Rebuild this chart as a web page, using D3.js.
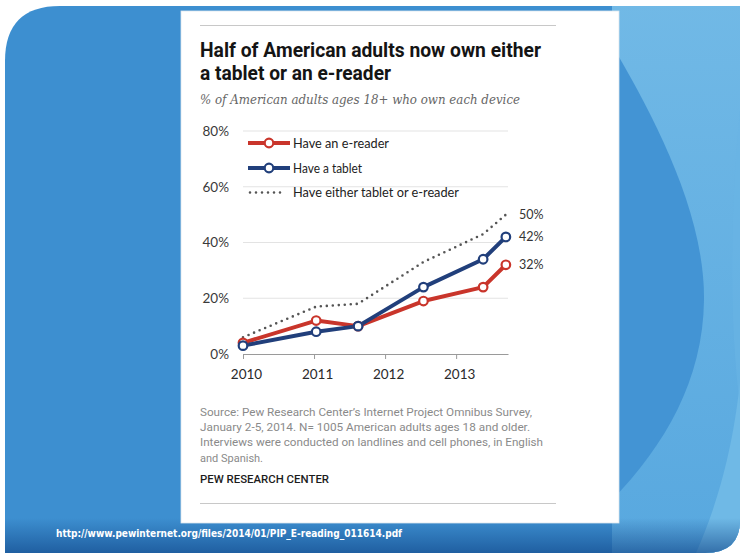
<!DOCTYPE html>
<html>
<head>
<meta charset="utf-8">
<script src="https://cdn.jsdelivr.net/npm/d3@7"></script>
<style>
  html, body { margin: 0; padding: 0; background: #fff; }
  svg { display: block; }
</style>
</head>
<body>
<svg id="slide" width="740" height="553"></svg>
<script>
// Survey waves (fractional years) and ownership shares, in percent
const surveyDates = [2010.0, 2011.03, 2011.62, 2012.54, 2013.38, 2013.70];
const eReader = [4, 12, 10, 19, 24, 32];
const tablet = [3, 8, 10, 24, 34, 42];
const either = [6, 17, 18, 33, 43, 50];

const seriesNames = ["Have an e-reader", "Have a tablet", "Have either tablet or e-reader"];
const yTicks = [0, 20, 40, 60, 80];
const xTicks = [2010, 2011, 2012, 2013];

const titleLines = ["Half of American adults now own either", "a tablet or an e-reader"];
const subtitle = "% of American adults ages 18+ who own each device";
const sourceLines = [
  "Source: Pew Research Center\u2019s Internet Project Omnibus Survey,",
  "January 2-5, 2014. N= 1005 American adults ages 18 and older.",
  "Interviews were conducted on landlines and cell phones, in English",
  "and Spanish."
];
const credit = "PEW RESEARCH CENTER";
const url = "http://www.pewinternet.org/files/2014/01/PIP_E-reading_011614.pdf";

const RED = "#c9352b", BLUE = "#213f7b", DOT = "#555";

const svg = d3.select("#slide");
const defs = svg.append("defs");

// squeeze or stretch a text node to a given rendered width
function fit(sel, w) {
  sel.each(function () {
    const L = this.getComputedTextLength();
    if (Math.abs(L - w) > 0.8) d3.select(this).attr("textLength", w).attr("lengthAdjust", "spacingAndGlyphs");
  });
}

// ---------- slide background ----------
const shapePath = "M5,61 Q5,6 60,6 L740,6 L740,520 Q740,553 705,553 L5,553 Z";
defs.append("clipPath").attr("id", "slideClip").append("path").attr("d", shapePath);

const rg = defs.append("linearGradient").attr("id", "rightGrad").attr("x1", 0).attr("y1", 0).attr("x2", 0).attr("y2", 1);
rg.append("stop").attr("offset", "0%").attr("stop-color", "#71b9e6");
rg.append("stop").attr("offset", "100%").attr("stop-color", "#58a8df");

const bg = defs.append("linearGradient").attr("id", "bandGrad").attr("x1", 0).attr("y1", 0).attr("x2", 0).attr("y2", 1);
bg.append("stop").attr("offset", "0%").attr("stop-color", "#0c3f82").attr("stop-opacity", 0);
bg.append("stop").attr("offset", "100%").attr("stop-color", "#0c3f82").attr("stop-opacity", 0.6);

const back = svg.append("g").attr("clip-path", "url(#slideClip)");
back.append("rect").attr("x", 0).attr("y", 0).attr("width", 740).attr("height", 553).attr("fill", "#3d8fd0");
back.append("rect").attr("x", 612).attr("y", 0).attr("width", 130).attr("height", 553).attr("fill", "url(#rightGrad)");
back.append("path")
  .attr("d", "M612,45 C650,110 705,210 704,300 C703,380 665,445 612,500 Z")
  .attr("fill", "#4394d4");
back.append("path")
  .attr("d", "M742,360 C735,450 715,510 696,553 L742,553 Z")
  .attr("fill", "#6fb9e6");
back.append("path")
  .attr("d", "M742,90 C730,200 728,330 742,420 Z")
  .attr("fill", "#69b4e4").attr("opacity", 0.6);
back.append("rect").attr("x", 0).attr("y", 518).attr("width", 740).attr("height", 35).attr("fill", "url(#bandGrad)");

// URL footer
svg.append("text")
  .attr("x", 56).attr("y", 537)
  .attr("font-family", "'DejaVu Sans', Verdana, sans-serif")
  .attr("font-weight", "bold").attr("font-size", 10.5)
  .attr("fill", "#fff")
  .text(url)
  .call(fit, 346);

// ---------- card ----------
svg.append("rect").attr("x", 181).attr("y", 11).attr("width", 438).attr("height", 512)
  .attr("fill", "#fff").attr("stroke", "#dde6ee").attr("stroke-width", 0.8);

svg.append("line").attr("x1", 200).attr("x2", 556).attr("y1", 25.5).attr("y2", 25.5)
  .attr("stroke", "#c8c8c8").attr("stroke-width", 1.2);
svg.append("line").attr("x1", 200).attr("x2", 556).attr("y1", 503.5).attr("y2", 503.5)
  .attr("stroke", "#c8c8c8").attr("stroke-width", 1.2);

// title
const titleWidths = [341, 191];
svg.selectAll("text.title").data(titleLines).join("text")
  .attr("class", "title")
  .attr("x", 200).attr("y", (d, i) => 57 + i * 23)
  .attr("font-family", "Roboto, 'Liberation Sans', sans-serif")
  .attr("font-weight", "bold").attr("font-size", 19.5)
  .attr("fill", "#141414")
  .text(d => d)
  .each(function (d, i) { fit(d3.select(this), titleWidths[i]); });

svg.append("text")
  .attr("x", 200).attr("y", 104)
  .attr("font-family", "'DejaVu Serif', 'Liberation Serif', serif")
  .attr("font-style", "italic").attr("font-size", 13)
  .attr("fill", "#666")
  .text(subtitle)
  .call(fit, 320);

// ---------- chart ----------
const x = d3.scaleLinear().domain([2010, 2013.73]).range([243, 508]);
const y = d3.scaleLinear().domain([0, 80]).range([354, 131]);

const plot = svg.append("g");

// gridlines
plot.append("g").selectAll("line").data(yTicks.filter(d => d > 0)).join("line")
  .attr("x1", x.range()[0]).attr("x2", x.range()[1])
  .attr("y1", d => y(d)).attr("y2", d => y(d))
  .attr("stroke", "#e3e3e3").attr("stroke-width", 1);

// y axis labels
const yAxis = plot.append("g").attr("transform", `translate(${x.range()[0]},0)`)
  .call(d3.axisLeft(y).tickValues(yTicks).tickFormat(d => d + "%").tickSize(0).tickPadding(14));
yAxis.select(".domain").remove();
yAxis.selectAll("text")
  .attr("font-family", "Lato, 'Open Sans', sans-serif").attr("font-size", 13.5)
  .attr("fill", "#3a3a3a");

// x axis
const xAxis = plot.append("g").attr("transform", `translate(0,${y(0)})`)
  .call(d3.axisBottom(x).tickValues(xTicks).tickFormat(d3.format("d")).tickSizeInner(5).tickSizeOuter(0).tickPadding(10));
xAxis.select(".domain").attr("stroke", "#9a9a9a").attr("stroke-width", 1.2);
xAxis.selectAll(".tick line").attr("stroke", "#9a9a9a");
xAxis.selectAll("text")
  .attr("dx", 3)
  .attr("font-family", "Lato, 'Open Sans', sans-serif").attr("font-size", 13.5)
  .attr("fill", "#2a2a2a");

const line = d3.line().x(d => x(d[0])).y(d => y(d[1]));
const pairs = vals => surveyDates.map((t, i) => [t, vals[i]]);

// either device: dotted
plot.append("path").datum(pairs(either))
  .attr("d", line).attr("fill", "none")
  .attr("stroke", DOT).attr("stroke-width", 2.6)
  .attr("stroke-linecap", "round").attr("stroke-dasharray", "0 6");

[[eReader, RED], [tablet, BLUE]].forEach(([vals, col]) => {
  plot.append("path").datum(pairs(vals))
    .attr("d", line).attr("fill", "none")
    .attr("stroke", col).attr("stroke-width", 4).attr("stroke-linejoin", "round");
});
[[eReader, RED], [tablet, BLUE]].forEach(([vals, col]) => {
  plot.append("g").selectAll("circle").data(pairs(vals)).join("circle")
    .attr("cx", d => x(d[0])).attr("cy", d => y(d[1])).attr("r", 4.3)
    .attr("fill", "#fff").attr("stroke", col).attr("stroke-width", 2.2);
});

// end-of-line value labels
const last = surveyDates.length - 1;
plot.append("g").selectAll("text").data([either[last], tablet[last], eReader[last]]).join("text")
  .attr("x", 519).attr("y", d => y(d) + 4.5)
  .attr("font-family", "Lato, 'Open Sans', sans-serif").attr("font-size", 12.5)
  .attr("fill", "#333")
  .text(d => d + "%");

// legend
const legendRows = [
  { name: seriesNames[0], col: RED, dotted: false, yy: 143 },
  { name: seriesNames[1], col: BLUE, dotted: false, yy: 168 },
  { name: seriesNames[2], col: DOT, dotted: true, yy: 192.5 }
];
const legendWidths = [96, 69, 166];
const lg = plot.append("g");
legendRows.forEach((r, i) => {
  if (r.dotted) {
    lg.append("line").attr("x1", 250).attr("x2", 284).attr("y1", r.yy).attr("y2", r.yy)
      .attr("stroke", r.col).attr("stroke-width", 2.6).attr("stroke-linecap", "round").attr("stroke-dasharray", "0 6");
  } else {
    lg.append("line").attr("x1", 248).attr("x2", 290).attr("y1", r.yy).attr("y2", r.yy)
      .attr("stroke", r.col).attr("stroke-width", 4);
    lg.append("circle").attr("cx", 269).attr("cy", r.yy).attr("r", 4.3)
      .attr("fill", "#fff").attr("stroke", r.col).attr("stroke-width", 2.2);
  }
  lg.append("text").attr("x", 293).attr("y", r.yy + 4.5)
    .attr("font-family", "Lato, 'Open Sans', sans-serif").attr("font-size", 13)
    .attr("fill", "#222").text(r.name)
    .call(fit, legendWidths[i]);
});

// source notes
const sourceWidths = [332, 330, 343, 63];
svg.selectAll("text.src").data(sourceLines).join("text")
  .attr("class", "src")
  .attr("x", 200).attr("y", (d, i) => 416 + i * 15.2)
  .attr("font-family", "Roboto, 'Liberation Sans', sans-serif").attr("font-size", 11.5)
  .attr("fill", "#8a8a8a")
  .text(d => d)
  .each(function (d, i) { fit(d3.select(this), sourceWidths[i]); });

svg.append("text")
  .attr("x", 200).attr("y", 483)
  .attr("font-family", "Roboto, 'Liberation Sans', sans-serif").attr("font-size", 11.5)
  .attr("font-weight", 500).attr("fill", "#1c1c1c")
  .text(credit)
  .call(fit, 129);
</script>
</body>
</html>
